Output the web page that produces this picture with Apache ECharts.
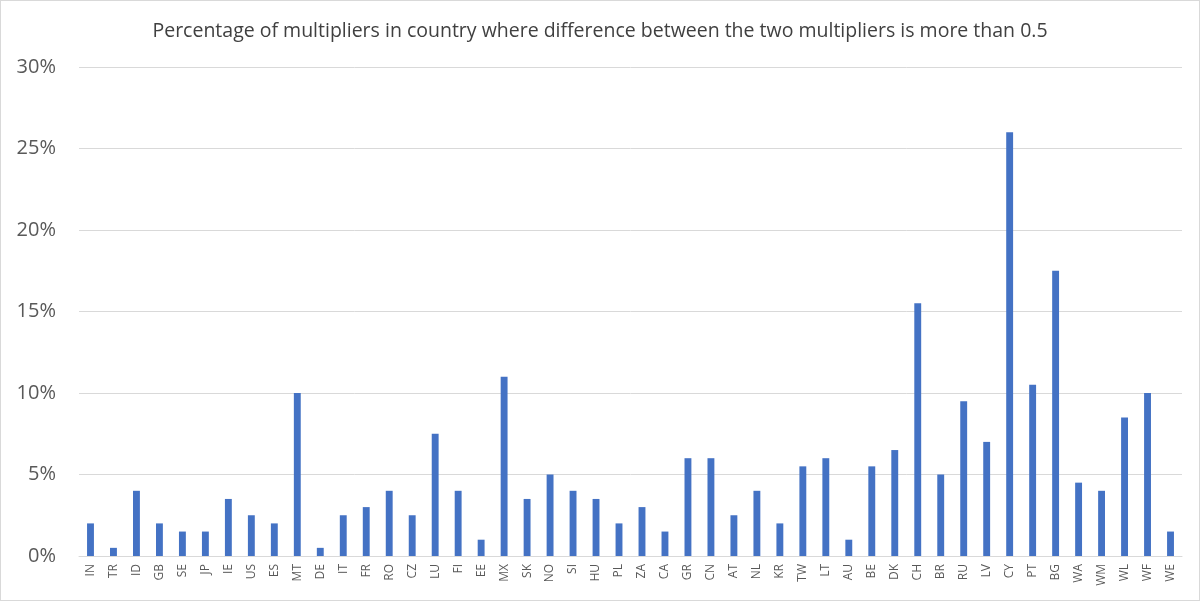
<!DOCTYPE html>
<html><head><meta charset="utf-8">
<script src="https://cdn.jsdelivr.net/npm/echarts@6/dist/echarts.min.js"></script>
<style>html,body{margin:0;padding:0;background:#fff}#c{width:1200px;height:601px;box-sizing:border-box;border:1px solid #d9d9d9}</style>
</head><body><div id="c"></div>
<script>
const categories = ["IN","TR","ID","GB","SE","JP","IE","US","ES","MT","DE","IT","FR","RO","CZ","LU","FI","EE","MX","SK","NO","SI","HU","PL","ZA","CA","GR","CN","AT","NL","KR","TW","LT","AU","BE","DK","CH","BR","RU","LV","CY","PT","BG","WA","WM","WL","WF","WE"];
const values = [2,0.5,4,2,1.5,1.5,3.5,2.5,2,10,0.5,2.5,3,4,2.5,7.5,4,1,11,3.5,5,4,3.5,2,3,1.5,6,6,2.5,4,2,5.5,6,1,5.5,6.5,15.5,5,9.5,7,26,10.5,17.5,4.5,4,8.5,10,1.5];
const title = "Percentage of multipliers in country where difference between the two multipliers is more than 0.5";
const chart = echarts.init(document.getElementById('c'));
chart.setOption({
  animation:false,
  title:{text:title,left:'center',top:15,textStyle:{fontFamily:'Open Sans',fontSize:19.5,fontWeight:'normal',color:'#404040'}},
  grid:{left:78,right:17,top:66,bottom:44},
  xAxis:{type:'category',data:categories,
    axisLine:{lineStyle:{color:'#d9d9d9'}},axisTick:{show:false},
    axisLabel:{rotate:90,interval:0,fontFamily:'Open Sans',fontSize:12,color:'#595959',margin:8}},
  yAxis:{type:'value',min:0,max:30,interval:5,
    axisLabel:{formatter:'{value}%',fontFamily:'Open Sans',fontSize:20,color:'#595959',margin:23},
    splitLine:{lineStyle:{color:'#d9d9d9'}},axisLine:{show:false},axisTick:{show:false}},
  series:[{type:'bar',data:values,barWidth:'30%',itemStyle:{color:'#4472C4'}}]
});
</script></body></html>
